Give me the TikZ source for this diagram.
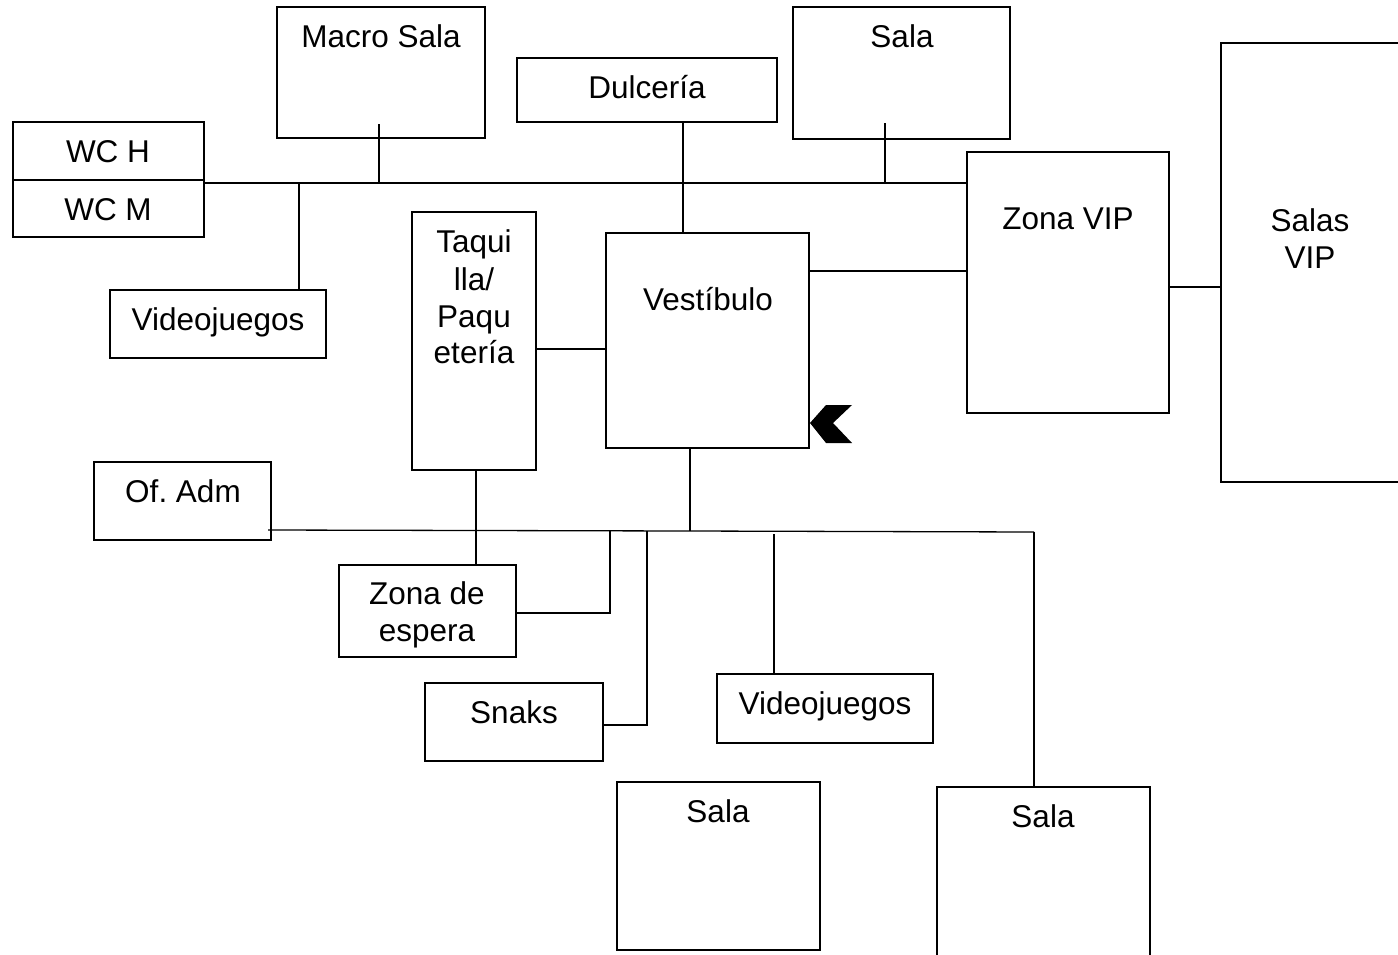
\documentclass[tikz,border=0pt]{standalone}
\usepackage{fontspec}
\setmainfont{Liberation Sans}
\frenchspacing
\begin{document}
\begin{tikzpicture}[x=1pt,y=-1pt,line width=1.3pt,
  box/.style={draw,rectangle,inner sep=0pt,outer sep=0pt},
  lbl/.style={anchor=base,inner sep=0pt,font=\fontsize{31.5}{37}\selectfont},
  conn/.style={draw,line width=1.3pt}]
\useasboundingbox (0,0) rectangle (1398,954);
% boxes
\node[box,minimum width=208pt,minimum height=131pt] (macro) at (381,72.5) {};
\node[box,minimum width=260pt,minimum height=64pt] (dulc) at (647,90) {};
\node[box,minimum width=217pt,minimum height=132pt] (salaT) at (901.5,73) {};
\node[box,minimum width=191pt,minimum height=58pt] (wch) at (108.5,151) {};
\node[box,minimum width=191pt,minimum height=57pt] (wcm) at (108.5,208.5) {};
\node[box,minimum width=216pt,minimum height=68pt] (vjA) at (218,324) {};
\node[box,minimum width=124pt,minimum height=258pt] (taq) at (474,341) {};
\node[box,minimum width=203pt,minimum height=215pt] (vest) at (707.5,340.5) {};
\node[box,minimum width=202pt,minimum height=261pt] (zvip) at (1068,282.5) {};
\node[box,minimum width=181pt,minimum height=439pt] (svip) at (1311.5,262.5) {};
\node[box,minimum width=177pt,minimum height=78pt] (ofadm) at (182.5,501) {};
\node[box,minimum width=177pt,minimum height=92pt] (zesp) at (427.5,611) {};
\node[box,minimum width=178pt,minimum height=78pt] (snaks) at (514,722) {};
\node[box,minimum width=216pt,minimum height=69pt] (vjB) at (825,708.5) {};
\node[box,minimum width=203pt,minimum height=168pt] (salaBL) at (718.5,866) {};
\node[box,minimum width=213pt,minimum height=176pt] (salaBR) at (1043.5,875) {};
% labels
\node[lbl] (macro-t) at (381,47) {Macro Sala};
\node[lbl] (dulc-t) at (647,98) {Dulcería};
\node[lbl] (salaT-t) at (902,47) {Sala};
\node[lbl] (wch-t) at (108,162) {WC H};
\node[lbl] (wcm-t) at (108,220) {WC M};
\node[lbl] (vjA-t) at (218,330) {Videojuegos};
\node[lbl] (taq-t1) at (474,252) {Taqui};
\node[lbl] (taq-t2) at (474,290) {lla/};
\node[lbl] (taq-t3) at (474,327) {Paqu};
\node[lbl] (taq-t4) at (474,363) {etería};
\node[lbl] (vest-t) at (708,310) {Vestíbulo};
\node[lbl] (zvip-t) at (1068,229) {Zona VIP};
\node[lbl] (svip-t1) at (1310,231) {Salas};
\node[lbl] (svip-t2) at (1310,268) {VIP};
\node[lbl] (ofadm-t) at (183,502) {Of. Adm};
\node[lbl] (zesp-t1) at (427,604) {Zona de};
\node[lbl] (zesp-t2) at (427,641) {espera};
\node[lbl] (snaks-t) at (514,723) {Snaks};
\node[lbl] (vjB-t) at (825,714) {Videojuegos};
\node[lbl] (salaBL-t) at (718,822) {Sala};
\node[lbl] (salaBR-t) at (1043,827) {Sala};
% connector coordinates
\coordinate (busL) at (204,183);
\coordinate (m1) at (379,124);
\coordinate (s1) at (885,123);
\coordinate (v1) at (299,183);
\coordinate (d1) at (683,122);
\coordinate (tv) at (536,349);
\coordinate (vz) at (809,271);
\coordinate (zs) at (1169,287);
\coordinate (bb1) at (268,530);
\coordinate (bb2) at (690,531);
\coordinate (bb3) at (1034,532);
\coordinate (t1) at (476,470);
\coordinate (z1) at (516,613);
\coordinate (j1) at (610,531);
\coordinate (j2) at (647,531);
\coordinate (sn) at (603,725);
\coordinate (vb) at (774,534);
% connectors
\draw[conn] (busL) -- (busL -| zvip.west);
\draw[conn] (m1) -- (m1 |- busL);
\draw[conn] (s1) -- (s1 |- busL);
\draw[conn] (v1) -- (v1 |- vjA.north);
\draw[conn] (d1) -- (d1 |- vest.north);
\draw[conn] (tv) -- (tv -| vest.west);
\draw[conn] (vz) -- (vz -| zvip.west);
\draw[conn] (zs) -- (zs -| svip.west);
\draw[conn] (bb1) -- (bb2) -- (bb3);
\draw[conn] (bb2 |- vest.south) -- (bb2);
\draw[conn] (t1) -- (t1 |- zesp.north);
\draw[conn] (z1) -| (j1);
\draw[conn] (sn) -| (j2);
\draw[conn] (vb) -- (vb |- vjB.north);
\draw[conn] (bb3) -- (bb3 |- salaBR.north);
% entrance chevron
\fill (810,423) -- (826,405) -- (852,405) -- (833,423) -- (852,443) -- (826,443) -- cycle;
\end{tikzpicture}
\end{document}
